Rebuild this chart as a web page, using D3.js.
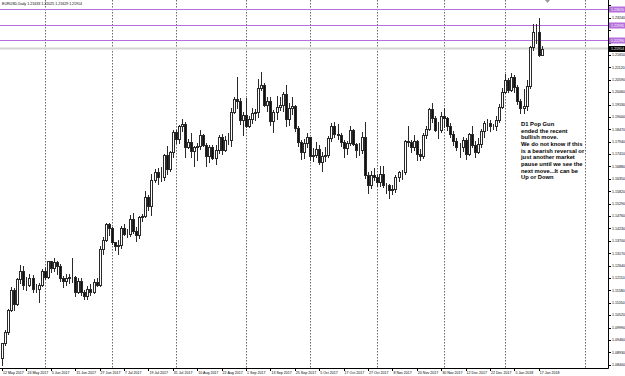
<!DOCTYPE html>
<html>
<head>
<meta charset="utf-8">
<script src="https://cdn.jsdelivr.net/npm/d3@7"></script>
<style>
  body { margin: 0; background: #fff; }
  svg { display: block; }
</style>
</head>
<body>
<div id="chart"></div>
<script>
"use strict";

let svgWidth = 625;
let svgHeight = 376;
let plotRight = 608;
let plotBottom = 368;

// daily bars, 12 May 2017 .. 18 Jan 2018 (EURUSD, D1)
let opens = [
  1.0867,1.0931,1.0980,1.1076,1.1160,1.1100,1.1208,1.1242,1.1180,1.1183,
  1.1212,1.1165,1.1163,1.1180,1.1243,1.1214,1.1282,1.1254,1.1279,1.1261,
  1.1211,1.1196,1.1212,1.1217,1.1217,1.1150,1.1198,1.1149,1.1133,1.1166,
  1.1151,1.1195,1.1183,1.1337,1.1375,1.1442,1.1425,1.1363,1.1348,1.1350,
  1.1423,1.1400,1.1398,1.1463,1.1412,1.1397,1.1470,1.1475,1.1556,1.1519,
  1.1632,1.1665,1.1641,1.1645,1.1735,1.1679,1.1750,1.1836,1.1804,1.1860,
  1.1868,1.1773,1.1793,1.1754,1.1770,1.1774,1.1822,1.1780,1.1733,1.1770,
  1.1725,1.1760,1.1812,1.1760,1.1800,1.1800,1.1922,1.1976,1.1968,1.1887,
  1.1908,1.1860,1.1890,1.1916,1.1919,1.2025,1.2035,1.1952,1.1966,1.1884,
  1.1920,1.1943,1.1952,1.1996,1.1893,1.1940,1.1948,1.1851,1.1793,1.1748,
  1.1787,1.1814,1.1733,1.1737,1.1762,1.1705,1.1732,1.1737,1.1808,1.1860,
  1.1826,1.1822,1.1793,1.1765,1.1790,1.1845,1.1786,1.1760,1.1760,1.1813,
  1.1651,1.1608,1.1650,1.1645,1.1620,1.1656,1.1610,1.1608,1.1587,1.1590,
  1.1641,1.1665,1.1663,1.1795,1.1794,1.1770,1.1795,1.1740,1.1733,1.1822,
  1.1850,1.1932,1.1896,1.1845,1.1845,1.1905,1.1895,1.1863,1.1828,1.1796,
  1.1773,1.1770,1.1802,1.1742,1.1825,1.1780,1.1750,1.1783,1.1840,1.1872,
  1.1873,1.1859,1.1859,1.1887,1.1944,1.2005,1.2059,1.2015,1.2069,1.2030,
  1.1967,1.1937,1.1948,1.2034,1.2197,1.2263,1.2261,1.2163
];
let highs = [
  1.0934,1.0990,1.1080,1.1172,1.1170,1.1212,1.1268,1.1264,1.1215,1.1230,
  1.1222,1.1185,1.1190,1.1250,1.1260,1.1285,1.1285,1.1296,1.1284,1.1270,
  1.1221,1.1230,1.1228,1.1296,1.1220,1.1210,1.1210,1.1160,1.1177,1.1187,
  1.1208,1.1213,1.1349,1.1387,1.1445,1.1446,1.1430,1.1367,1.1375,1.1433,
  1.1440,1.1420,1.1480,1.1490,1.1430,1.1477,1.1485,1.1583,1.1564,1.1655,
  1.1677,1.1682,1.1687,1.1741,1.1777,1.1756,1.1845,1.1846,1.1865,1.1889,
  1.1878,1.1805,1.1829,1.1775,1.1790,1.1845,1.1826,1.1790,1.1780,1.1780,
  1.1780,1.1822,1.1826,1.1818,1.1830,1.1940,1.1984,1.2070,1.1980,1.1920,
  1.1980,1.1903,1.1938,1.1935,1.2060,1.2092,1.2045,1.1985,1.1985,1.1930,
  1.1990,1.1987,1.2005,1.2035,1.1960,1.1985,1.1950,1.1860,1.1803,1.1807,
  1.1832,1.1815,1.1765,1.1791,1.1780,1.1749,1.1770,1.1819,1.1874,1.1880,
  1.1870,1.1830,1.1800,1.1795,1.1860,1.1850,1.1790,1.1787,1.1834,1.1880,
  1.1665,1.1667,1.1681,1.1656,1.1688,1.1688,1.1618,1.1612,1.1610,1.1650,
  1.1668,1.1672,1.1800,1.1861,1.1800,1.1821,1.1800,1.1761,1.1830,1.1860,
  1.1936,1.1961,1.1905,1.1880,1.1920,1.1940,1.1899,1.1875,1.1840,1.1810,
  1.1788,1.1815,1.1810,1.1830,1.1862,1.1795,1.1810,1.1850,1.1882,1.1891,
  1.1885,1.1870,1.1905,1.1955,1.2023,1.2082,1.2066,1.2089,1.2081,1.2035,
  1.1976,1.2018,1.2058,1.2203,1.2296,1.2296,1.2323,1.2203
];
let lows = [
  1.0839,1.0925,1.0970,1.1071,1.1075,1.1095,1.1190,1.1165,1.1160,1.1175,
  1.1150,1.1150,1.1110,1.1175,1.1206,1.1209,1.1238,1.1240,1.1226,1.1197,
  1.1171,1.1180,1.1190,1.1195,1.1132,1.1145,1.1140,1.1120,1.1119,1.1139,
  1.1145,1.1176,1.1175,1.1313,1.1370,1.1395,1.1358,1.1332,1.1312,1.1340,
  1.1393,1.1385,1.1391,1.1405,1.1369,1.1380,1.1455,1.1470,1.1503,1.1480,
  1.1621,1.1612,1.1624,1.1629,1.1656,1.1670,1.1730,1.1789,1.1790,1.1838,
  1.1728,1.1765,1.1730,1.1690,1.1715,1.1763,1.1775,1.1688,1.1705,1.1721,
  1.1700,1.1745,1.1740,1.1755,1.1785,1.1775,1.1915,1.1940,1.1870,1.1823,
  1.1857,1.1855,1.1876,1.1885,1.1900,1.2015,1.1945,1.1925,1.1867,1.1837,
  1.1890,1.1930,1.1925,1.1860,1.1865,1.1912,1.1838,1.1774,1.1718,1.1723,
  1.1773,1.1716,1.1712,1.1730,1.1697,1.1668,1.1710,1.1728,1.1797,1.1815,
  1.1805,1.1776,1.1730,1.1740,1.1778,1.1780,1.1728,1.1738,1.1745,1.1640,
  1.1575,1.1595,1.1629,1.1605,1.1604,1.1600,1.1575,1.1554,1.1570,1.1579,
  1.1626,1.1634,1.1655,1.1777,1.1750,1.1757,1.1715,1.1714,1.1724,1.1810,
  1.1842,1.1880,1.1838,1.1811,1.1835,1.1856,1.1845,1.1812,1.1779,1.1758,
  1.1729,1.1755,1.1718,1.1735,1.1770,1.1730,1.1745,1.1772,1.1815,1.1845,
  1.1838,1.1850,1.1845,1.1880,1.1940,1.2002,1.2005,1.2011,1.2006,1.1955,
  1.1916,1.1915,1.1930,1.2025,1.2185,1.2215,1.2160,1.2163
];
let closes = [
  1.0931,1.0980,1.1076,1.1160,1.1100,1.1208,1.1242,1.1180,1.1183,1.1212,
  1.1165,1.1163,1.1180,1.1243,1.1214,1.1282,1.1254,1.1279,1.1261,1.1211,
  1.1196,1.1212,1.1217,1.1217,1.1150,1.1198,1.1149,1.1133,1.1166,1.1151,
  1.1195,1.1183,1.1337,1.1375,1.1442,1.1425,1.1363,1.1348,1.1350,1.1423,
  1.1400,1.1398,1.1463,1.1412,1.1397,1.1470,1.1475,1.1556,1.1519,1.1632,
  1.1665,1.1641,1.1645,1.1735,1.1679,1.1750,1.1836,1.1804,1.1860,1.1868,
  1.1773,1.1793,1.1754,1.1770,1.1774,1.1822,1.1780,1.1733,1.1770,1.1725,
  1.1760,1.1812,1.1760,1.1800,1.1800,1.1922,1.1976,1.1968,1.1887,1.1908,
  1.1860,1.1890,1.1916,1.1919,1.2025,1.2035,1.1952,1.1966,1.1884,1.1920,
  1.1943,1.1952,1.1996,1.1893,1.1940,1.1948,1.1851,1.1793,1.1748,1.1787,
  1.1814,1.1733,1.1737,1.1762,1.1705,1.1732,1.1737,1.1808,1.1860,1.1826,
  1.1822,1.1793,1.1765,1.1790,1.1845,1.1786,1.1760,1.1760,1.1813,1.1651,
  1.1608,1.1650,1.1645,1.1620,1.1656,1.1610,1.1608,1.1587,1.1590,1.1641,
  1.1665,1.1663,1.1795,1.1794,1.1770,1.1795,1.1740,1.1733,1.1822,1.1850,
  1.1932,1.1896,1.1845,1.1845,1.1905,1.1895,1.1863,1.1828,1.1796,1.1773,
  1.1770,1.1802,1.1742,1.1825,1.1780,1.1750,1.1783,1.1840,1.1872,1.1873,
  1.1859,1.1859,1.1887,1.1944,1.2005,1.2059,1.2015,1.2069,1.2030,1.1967,
  1.1937,1.1948,1.2034,1.2197,1.2263,1.2261,1.2163,1.2191
];

// time axis: one label every 8 bars
let timeLabels = [
  "12 May 2017","24 May 2017","5 Jun 2017","15 Jun 2017","27 Jun 2017",
  "7 Jul 2017","19 Jul 2017","31 Jul 2017","10 Aug 2017","22 Aug 2017",
  "1 Sep 2017","13 Sep 2017","25 Sep 2017","5 Oct 2017","17 Oct 2017",
  "27 Oct 2017","8 Nov 2017","20 Nov 2017","30 Nov 2017","12 Dec 2017",
  "22 Dec 2017","5 Jan 2018","17 Jan 2018"
];
let labelStep = 8;

// month separators (bar index, the last one is in the future area)
let gridBars = [14, 36, 57, 80, 101, 123, 145, 165, 191];

// price scale labels
let priceTicks = [
  1.23770,1.23240,1.22710,1.22180,1.21650,1.21120,1.20590,1.20060,1.19530,
  1.19000,1.18470,1.17940,1.17410,1.16880,1.16350,1.15820,1.15290,1.14760,
  1.14230,1.13700,1.13170,1.12640,1.12110,1.11580,1.11050,1.10520,1.09990,
  1.09460,1.08930,1.08400
];

// horizontal levels drawn on the chart
let levels = [1.23620, 1.22935, 1.22290];
let bidPrice = 1.21914;

let headerText = "EURUSD,Daily  1.21633 1.22025 1.21629 1.21914";
let note = [
  "D1 Pop Gun",
  "ended the recent",
  "bullish move.",
  "We do not know if this",
  "is a bearish reversal or",
  "just another market",
  "pause until we see the",
  "next move...It can be",
  "Up or Down"
];

let font = "'Liberation Sans', Arial, sans-serif";

let svg = d3.select("#chart")
  .append("svg")
  .attr("width", svgWidth)
  .attr("height", svgHeight)
  .style("font-family", font);

svg.append("rect")
  .attr("width", svgWidth)
  .attr("height", svgHeight)
  .attr("fill", "#ffffff");

let xScale = d3.scaleLinear()
  .domain([0, 200])
  .range([2, 2 + 200 * 3.05]);

let yScale = d3.scaleLinear()
  .domain([1.0826, 1.2400])
  .range([plotBottom, 0]);

function px(v) { return Math.round(v) + 0.5; }

/* month separators */
svg.append("g")
  .selectAll("line")
  .data(gridBars)
  .enter()
  .append("line")
  .attr("x1", function(d){ return px(xScale(d)); })
  .attr("x2", function(d){ return px(xScale(d)); })
  .attr("y1", 0)
  .attr("y2", plotBottom)
  .attr("stroke", "#6a6a6a")
  .attr("stroke-width", 1)
  .attr("stroke-dasharray", "1.5,1.5");

/* horizontal levels */
svg.append("g")
  .selectAll("line")
  .data(levels)
  .enter()
  .append("line")
  .attr("x1", 0)
  .attr("x2", plotRight)
  .attr("y1", function(d){ return px(yScale(d)); })
  .attr("y2", function(d){ return px(yScale(d)); })
  .attr("stroke", "#b56fdc")
  .attr("stroke-width", 1);

// bid line
svg.append("line")
  .attr("x1", 0)
  .attr("x2", plotRight)
  .attr("y1", Math.round(yScale(bidPrice)) - 0.5)
  .attr("y2", Math.round(yScale(bidPrice)) - 0.5)
  .attr("stroke", "#d4d4d4")
  .attr("stroke-width", 2);

/* candles */
let bars = d3.range(closes.length);

let candles = svg.append("g")
  .selectAll("g")
  .data(bars)
  .enter()
  .append("g");

candles.append("line")
  .attr("x1", function(i){ return Math.round(xScale(i)) + 0.5; })
  .attr("x2", function(i){ return Math.round(xScale(i)) + 0.5; })
  .attr("y1", function(i){ return Math.round(yScale(highs[i])); })
  .attr("y2", function(i){ return Math.round(yScale(lows[i])) + 1; })
  .attr("stroke", "#2a2a2a")
  .attr("stroke-width", 1);

candles.append("rect")
  .attr("x", function(i){ return Math.round(xScale(i)) - 0.5; })
  .attr("y", function(i){ return Math.round(yScale(Math.max(opens[i], closes[i]))) + 0.5; })
  .attr("width", 2)
  .attr("height", function(i){
    let h = Math.round(yScale(Math.min(opens[i], closes[i]))) - Math.round(yScale(Math.max(opens[i], closes[i])));
    return Math.max(h, 0);
  })
  .attr("fill", function(i){ return closes[i] >= opens[i] ? "#ffffff" : "#111111"; })
  .attr("stroke", "#2a2a2a")
  .attr("stroke-width", 1);

/* chart shift marker */
svg.append("path")
  .attr("d", "M545,0 L550,0 L547.5,3 Z")
  .attr("fill", "#9a9a9a");

/* axes frame */
svg.append("line")
  .attr("x1", 0).attr("x2", plotRight + 0.5)
  .attr("y1", plotBottom + 0.5).attr("y2", plotBottom + 0.5)
  .attr("stroke", "#000");
svg.append("line")
  .attr("x1", plotRight + 0.5).attr("x2", plotRight + 0.5)
  .attr("y1", 0).attr("y2", plotBottom + 0.5)
  .attr("stroke", "#000");

/* price axis: labels hidden where a level tag covers them */
let tagPrices = levels.concat([bidPrice]);
let visibleTicks = priceTicks.filter(function(p){
  return tagPrices.every(function(t){ return Math.abs(yScale(p) - yScale(t)) > 5.5; });
});

let priceAxis = svg.append("g");
priceAxis.selectAll("line")
  .data(priceTicks)
  .enter()
  .append("line")
  .attr("x1", plotRight)
  .attr("x2", plotRight + 3)
  .attr("y1", function(d){ return px(yScale(d)); })
  .attr("y2", function(d){ return px(yScale(d)); })
  .attr("stroke", "#000");
priceAxis.selectAll("text")
  .data(visibleTicks)
  .enter()
  .append("text")
  .attr("x", plotRight + 4)
  .attr("y", function(d){ return yScale(d) + 1.3; })
  .style("font-size", "3.6px")
  .attr("fill", "#000")
  .text(function(d){ return d.toFixed(5); });

// level labels
let levelTags = svg.append("g");
levelTags.selectAll("rect")
  .data(levels)
  .enter()
  .append("rect")
  .attr("x", plotRight + 1)
  .attr("y", function(d){ return Math.round(yScale(d)) - 2.5; })
  .attr("width", 16)
  .attr("height", 6)
  .attr("fill", "#b56fdc");
levelTags.selectAll("text")
  .data(levels)
  .enter()
  .append("text")
  .attr("x", plotRight + 3)
  .attr("y", function(d){ return Math.round(yScale(d)) + 1.8; })
  .style("font-size", "3.6px")
  .attr("fill", "#fff")
  .text(function(d){ return d.toFixed(5); });

svg.append("rect")
  .attr("x", plotRight + 1)
  .attr("y", Math.round(yScale(bidPrice)) - 3)
  .attr("width", 16)
  .attr("height", 6)
  .attr("fill", "#000");
svg.append("text")
  .attr("x", plotRight + 3)
  .attr("y", Math.round(yScale(bidPrice)) + 1.3)
  .style("font-size", "3.6px")
  .attr("fill", "#fff")
  .text(bidPrice.toFixed(5));

/* time axis */
let timeAxis = svg.append("g");
timeAxis.selectAll("line")
  .data(timeLabels)
  .enter()
  .append("line")
  .attr("x1", function(d, i){ return px(xScale(i * labelStep)); })
  .attr("x2", function(d, i){ return px(xScale(i * labelStep)); })
  .attr("y1", plotBottom)
  .attr("y2", plotBottom + 3)
  .attr("stroke", "#000");
timeAxis.selectAll("text")
  .data(timeLabels)
  .enter()
  .append("text")
  .attr("x", function(d, i){ return xScale(i * labelStep) + 1; })
  .attr("y", plotBottom + 5.5)
  .style("font-size", "3.6px")
  .attr("fill", "#000")
  .text(function(d){ return d; });

/* header */
svg.append("text")
  .attr("x", 2)
  .attr("y", 5)
  .style("font-size", "3.6px")
  .attr("fill", "#000")
  .text(headerText);

/* comment */
let noteG = svg.append("text")
  .attr("x", 521)
  .attr("y", 126)
  .style("font-size", "5.8px")
  .style("font-weight", "bold")
  .attr("fill", "#000");
noteG.selectAll("tspan")
  .data(note)
  .enter()
  .append("tspan")
  .attr("x", 521)
  .attr("dy", function(d, i){ return i === 0 ? 0 : 6.67; })
  .text(function(d){ return d; });
</script>
</body>
</html>
